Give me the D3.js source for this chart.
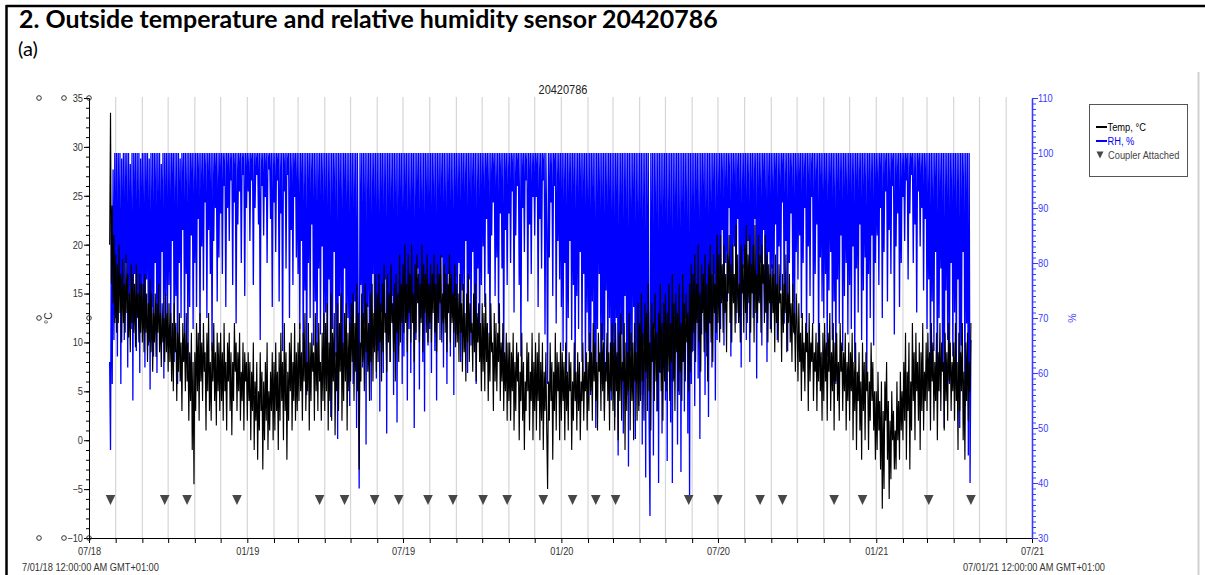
<!DOCTYPE html>
<html>
<head>
<meta charset="utf-8">
<script src="https://cdn.jsdelivr.net/npm/d3@7"></script>
<style>
  html, body { margin: 0; padding: 0; background: #fff; }
  svg { display: block; }
</style>
</head>
<body>
<svg id="chart" width="1205" height="575"></svg>
<script>
// ---- readings: one value per day, grouped by calendar month ----
const recordMonths = [
  "2018-07", "2018-08", "2018-09", "2018-10", "2018-11", "2018-12",
  "2019-01", "2019-02", "2019-03", "2019-04", "2019-05", "2019-06",
  "2019-07", "2019-08", "2019-09", "2019-10", "2019-11", "2019-12",
  "2020-01", "2020-02", "2020-03", "2020-04", "2020-05", "2020-06",
  "2020-07", "2020-08", "2020-09", "2020-10", "2020-11", "2020-12",
  "2021-01", "2021-02", "2021-03", "2021-04"
];
const firstRecordDay = 25; // logging began on 25 July 2018

const tempC = [
  [20, 33.5, 16, 24, 14, 21, 12],
  [19, 11, 18, 12, 20, 13, 17, 10, 18.5, 12, 16, 11, 19, 13, 17, 10.5, 15, 9, 18, 12, 17, 11, 16, 9.5, 18, 12.5, 15, 10, 17, 11, 16],
  [10, 16, 9, 17, 11, 15, 8, 14, 10, 16.5, 9, 15, 7, 13, 10, 15, 8.5, 14, 11, 16, 9, 13, 7.5, 14, 10, 12.5, 8, 15, 9, 13],
  [7, 14, 8, 13, 6, 12, 5, 14, 9, 12, 4, 11, 7, 13, 6, 10, 3, 12, 8, 11, 5, 13, 6, 10, 2, 9, 4, 11, -1, 8, -4.5],
  [9, 3, 12, 5, 11, 2, 13, 6, 10, 4, 12, 7, 9, 1, 11, 5, 13, 3, 8, 2, 10, 6, 12, 4, 9, 1.5, 11, 5, 10, 3],
  [11, 4, 9, 2, 12, 5, 8, 1, 10, 6, 11, 3, 9, 0.5, 8, 4, 12, 7, 10, 3, 9, 5, 11, 2, 7, 4, 10, 1, 9, 6, 8],
  [2, 9, 4, 8, 0, 7, 3, 10, -1, 6, 2, 8, -2, 5, 1, 9, 3, 7, -3, 6, 0, 8, 2, 10, -1, 5, 1, 7, 3, 9, 0],
  [8, 1, 10, 3, 7, -1, 9, 2, 11, 4, 8, 0, 12, 3, 9, -2, 7, 2, 10, 5, 11, 1, 8, 4, 12, 2, 9, 3],
  [10, 4, 12, 5, 9, 2, 11, 6, 13, 3, 8, 5, 12, 1, 10, 4, 11, 7, 9, 2, 13, 5, 10, 3, 12, 6, 8, 2, 11, 4, 13],
  [3, 12, 5, 14, 1, 10, 4, 15, 2, 11, 6, 13, 0.5, 9, 5, 14, 3, 12, 7, 15, 2, 10, 4, 13, 6, 14, 1, 11, 5, 12],
  [6, 14, 8, 15, 4, 12, 7, 16, 5, 13, -3, 10, 6, 15, 8, 13, 5, 16, 9, 14, 7, 12, 4, 15, 8, 16, 6, 13, 9, 17, 7],
  [15, 8, 17, 10, 14, 6, 16, 9, 18, 11, 13, 7, 17, 10, 15, 8, 18, 12, 14, 9, 16, 6, 17, 11, 15, 8, 19, 10, 16, 12],
  [18, 11, 20, 12, 16, 9, 19, 13, 17, 10, 20, 12, 15, 8, 18, 11, 19, 14, 17, 10, 16, 12, 20, 9, 18, 13, 17, 11, 19, 10, 16],
  [12, 18, 10, 17, 13, 19, 11, 16, 9, 18, 12, 17, 14, 19, 10, 15, 12, 18, 11, 17, 9, 16, 13, 19, 10, 17, 12, 15, 11, 18, 9.5],
  [16, 10, 15, 8, 17, 11, 14, 7, 16, 9, 13, 6, 15, 10, 17, 8, 14, 11, 12, 7, 15, 9, 16, 6, 13, 10, 14, 8, 12, 5],
  [14, 7, 13, 5, 15, 8, 12, 4, 11, 6, 14, 9, 10, 3, 13, 6, 12, 5, 11, 8, 14, 4, 10, 6, 12, 3, 9, 5, 11, 2, 10],
  [4, 10, 2, 9, 5, 11, 1, 8, 3, 10, 6, 9, 0, 7, 4, 11, 2, 8, -1, 6, 3, 10, 5, 9, 1, 7, 4, 11, 0, 8],
  [3, 10, 1, 9, 4, 11, 0, 8, 2, 10, -1, 7, 3, 9, 1, -5, 6, 2, 10, 4, 8, -2, 7, 3, 11, 1, 9, 5, 8, 0, 10],
  [2, 9, 4, 8, 0, 10, 3, 7, 1, 9, 5, 8, -1, 6, 2, 10, 4, 7, 1, 9, 3, 8, 0, 6, 4, 10, 2, 7, 5, 9, 1],
  [8, 3, 11, 5, 9, 2, 12, 6, 10, 4, 8, 1, 11, 7, 9, 3, 12, 5, 10, 2, 8, 6, 11, 4, 9, 1, 10, 5, 12],
  [3, 10, 1, 12, 5, 9, 0, 11, 4, 13, 2, 8, 6, 12, -1, 10, 3, 9, 5, 13, 1, 11, 4, 10, 0, 12, 6, 9, 2, 14, 3],
  [12, 4, 15, 6, 11, 2, 14, 7, 13, 3, 16, 5, 10, 1, 14, 8, 12, 4, 15, 6, 11, 3, 13, 7, 16, 5, 12, 2, 14, 6],
  [15, 5, 13, 7, 16, 4, 12, 8, 17, 6, 14, 3, 15, 9, 13, 5, 16, 7, 12, 4, 17, 8, 14, 6, 15, 10, 13, 5, 16, 7, 18],
  [9, 17, 11, 19, 8, 16, 12, 20, 10, 15, 7, 18, 13, 17, 9, 19, 11, 16, 6, 18, 12, 20, 10, 17, 8, 19, 13, 16, 11, 21],
  [12, 19, 10, 21, 14, 18, 11, 20, 13, 17, 9, 19, 15, 21, 12, 18, 10, 20, 14, 17, 11, 22, 13, 19, 12, 16, 10, 20, 15, 18, 11],
  [20, 13, 22, 12, 19, 14, 21, 11, 18, 15, 20, 10, 22, 13, 17, 12, 21, 14, 19, 11, 20, 16, 18, 12, 21, 13, 19, 10, 18, 14, 17],
  [11, 18, 13, 17, 9, 19, 12, 16, 10, 18, 14, 15, 8, 17, 11, 16, 13, 19, 9, 15, 12, 17, 10, 14, 8, 16, 11, 13, 7, 15],
  [12, 6, 14, 8, 11, 4, 13, 7, 10, 5, 12, 9, 11, 3, 13, 6, 10, 8, 12, 4, 9, 7, 11, 3, 10, 6, 12, 5, 9, 2, 11],
  [4, 12, 6, 10, 2, 11, 7, 13, 3, 9, 5, 12, 1, 10, 6, 11, 4, 8, 2, 12, 7, 10, 3, 9, 5, 11, 1, 8, 4, 10],
  [2, 9, 5, 11, 0, 8, 3, 10, -1, 7, 4, 9, 1, 6, -2, 10, 3, 8, 0, 9, 5, 7, -1, 6, 2, 10, 4, 8, 1, 5, -2],
  [5, -1, 7, 1, 4, -3, 6, -7, 3, -5, 6, 2, 8, -2, 4, -6, 2, -4, 5, 0, 3, -3, 1, -3, 6, 0, 4, -2, 7, 1, 5],
  [0, 8, 2, 11, -2, 7, 3, 10, -3, 6, 1, 12, 4, 9, 0, 11, 5, 8, 2, 10, -1, 9, 3, 12, 1, 7, 4, 10],
  [3, 11, 5, 9, 1, 12, 6, 10, 2, 8, 4, 11, 0, 9, 5, 12, 3, 10, 7, 8, 1, 11, 4, 9, 2, 12, 6, 10, 3, 8, 5],
  [10, 2, 12, 4, 8, -1, 11, 3, 9, 5, 12, 0, 7, -2, 10, 4, 11, 2, 8, 5, 12]
];

const rhPct = [
  [62, 46, 88, 58, 97, 66, 100],
  [70, 100, 63, 100, 76, 100, 58, 99, 72, 100, 66, 100, 80, 100, 61, 100, 74, 98, 68, 100, 55, 100, 78, 100, 64, 100, 71, 100, 60, 99, 75],
  [100, 68, 100, 61, 100, 77, 100, 65, 99, 57, 100, 72, 100, 63, 100, 80, 100, 60, 100, 70, 100, 67, 98, 82, 100, 59, 100, 74, 100, 66],
  [100, 76, 100, 67, 100, 84, 100, 62, 100, 74, 100, 58, 100, 80, 99, 70, 100, 86, 100, 65, 100, 78, 100, 61, 100, 72, 100, 85, 100, 68, 100],
  [80, 100, 72, 100, 88, 100, 66, 100, 83, 100, 75, 100, 91, 100, 70, 100, 86, 100, 78, 100, 64, 100, 84, 100, 90, 100, 73, 100, 81, 100],
  [89, 100, 78, 100, 94, 100, 72, 100, 90, 100, 84, 100, 95, 100, 76, 100, 91, 100, 69, 100, 87, 100, 93, 100, 80, 100, 96, 100, 74, 100, 90],
  [100, 93, 100, 84, 100, 95, 100, 76, 100, 90, 100, 96, 100, 87, 100, 66, 100, 94, 100, 85, 100, 92, 100, 80, 100, 97, 100, 88, 100, 72, 100],
  [91, 100, 82, 100, 95, 100, 73, 100, 89, 100, 64, 100, 93, 100, 79, 100, 96, 100, 70, 100, 86, 100, 76, 100, 92, 100, 81, 100],
  [78, 100, 68, 100, 84, 100, 62, 100, 75, 100, 56, 100, 80, 100, 70, 100, 87, 100, 65, 100, 73, 100, 59, 100, 79, 100, 67, 100, 83, 100, 63],
  [100, 71, 100, 60, 100, 77, 100, 52, 100, 68, 100, 82, 100, 63, 100, 48, 100, 74, 100, 66, 100, 57, 100, 79, 100, 61, 100, 70, 100, 54],
  [100, 66, 100, 58, 100, 73, 100, 50, 100, 64, 39, 100, 76, 100, 61, 100, 69, 100, 47, 100, 72, 100, 62, 100, 55, 100, 78, 100, 65, 100, 59],
  [100, 64, 100, 53, 100, 71, 100, 60, 100, 77, 100, 49, 100, 67, 100, 62, 100, 74, 100, 56, 100, 69, 100, 51, 100, 65, 100, 72, 100, 58],
  [100, 63, 100, 75, 100, 55, 100, 68, 100, 60, 100, 72, 100, 50, 100, 66, 100, 79, 100, 57, 100, 70, 100, 62, 100, 53, 100, 74, 100, 65, 100],
  [68, 100, 60, 100, 76, 100, 64, 100, 55, 100, 72, 100, 66, 100, 81, 100, 61, 100, 70, 100, 58, 100, 78, 100, 63, 100, 71, 100, 56, 100, 74],
  [100, 67, 100, 80, 100, 62, 100, 75, 100, 69, 100, 84, 100, 60, 100, 77, 100, 65, 100, 82, 100, 71, 100, 58, 100, 79, 100, 66, 100, 76],
  [100, 83, 100, 72, 100, 88, 100, 78, 100, 65, 100, 85, 100, 91, 100, 74, 100, 81, 100, 69, 100, 89, 100, 79, 100, 62, 100, 86, 100, 76, 100],
  [89, 100, 80, 100, 93, 100, 71, 100, 85, 100, 94, 100, 76, 100, 63, 100, 90, 100, 82, 100, 95, 100, 73, 100, 87, 100, 78, 100, 92, 100],
  [85, 100, 92, 100, 72, 100, 88, 100, 79, 100, 95, 100, 67, 100, 86, 58, 100, 81, 100, 91, 100, 74, 100, 94, 100, 69, 100, 84, 100, 77, 100],
  [72, 100, 64, 100, 80, 100, 60, 100, 70, 100, 84, 100, 66, 100, 76, 100, 57, 100, 74, 100, 68, 100, 82, 100, 62, 100, 78, 100, 59, 100, 71],
  [100, 64, 100, 56, 100, 73, 100, 61, 100, 50, 100, 68, 100, 78, 100, 58, 100, 66, 100, 53, 100, 75, 100, 60, 100, 70, 100, 55, 100],
  [62, 100, 52, 100, 70, 100, 45, 100, 60, 100, 67, 100, 49, 100, 74, 100, 56, 100, 43, 100, 64, 100, 58, 100, 72, 100, 48, 100, 61, 100, 54],
  [100, 56, 100, 47, 100, 65, 100, 41, 100, 59, 100, 51, 34, 100, 62, 100, 45, 100, 68, 100, 53, 100, 40, 100, 60, 100, 49, 100, 64, 100],
  [55, 100, 44, 100, 63, 100, 51, 100, 40, 100, 59, 100, 67, 100, 47, 100, 56, 100, 42, 100, 62, 100, 53, 100, 70, 100, 49, 100, 37, 100, 58],
  [100, 64, 100, 54, 100, 71, 100, 59, 100, 48, 100, 67, 100, 75, 100, 56, 100, 63, 100, 52, 100, 69, 100, 61, 100, 78, 100, 55, 100, 66],
  [100, 78, 100, 68, 100, 86, 100, 65, 100, 80, 100, 73, 100, 90, 100, 63, 100, 76, 100, 83, 100, 69, 100, 88, 100, 72, 100, 61, 100, 79, 100],
  [74, 100, 66, 100, 84, 100, 62, 100, 77, 100, 70, 100, 88, 100, 59, 100, 73, 100, 80, 100, 65, 100, 86, 100, 71, 100, 62, 100, 82, 100, 68],
  [100, 79, 100, 71, 100, 87, 100, 66, 100, 83, 100, 75, 100, 91, 100, 69, 100, 84, 100, 64, 100, 80, 100, 89, 100, 73, 100, 67, 100, 82],
  [100, 77, 100, 85, 100, 70, 100, 80, 100, 90, 100, 65, 100, 83, 100, 74, 100, 92, 100, 69, 100, 78, 100, 87, 100, 62, 100, 81, 100, 73, 100],
  [70, 100, 78, 100, 63, 100, 75, 100, 82, 100, 66, 100, 73, 100, 58, 100, 77, 100, 69, 100, 85, 100, 64, 100, 74, 100, 80, 100, 67, 100],
  [76, 100, 68, 100, 83, 100, 62, 100, 79, 100, 71, 100, 87, 100, 66, 100, 75, 100, 81, 100, 60, 100, 78, 100, 70, 100, 85, 100, 65, 100, 80],
  [100, 85, 100, 76, 100, 90, 100, 70, 100, 82, 100, 93, 100, 73, 100, 86, 100, 78, 100, 94, 100, 67, 100, 83, 100, 89, 100, 72, 100, 80, 100],
  [92, 100, 84, 100, 95, 100, 77, 100, 89, 100, 96, 100, 80, 100, 87, 100, 71, 100, 93, 100, 83, 100, 90, 100, 75, 100, 88, 100],
  [68, 100, 77, 100, 60, 100, 73, 100, 64, 100, 82, 100, 55, 100, 70, 100, 79, 100, 62, 100, 50, 100, 75, 100, 66, 100, 58, 100, 80, 100, 63],
  [100, 71, 100, 57, 100, 77, 100, 50, 100, 65, 100, 82, 100, 54, 100, 69, 100, 45, 100, 40, 66]
];

// dates when the coupler was attached (readout events)
const couplerDates = [
  "2018-07-26", "2018-09-27", "2018-10-23", "2018-12-20",
  "2019-03-26", "2019-04-24", "2019-05-29", "2019-06-26",
  "2019-07-30", "2019-08-28", "2019-10-02", "2019-10-30",
  "2019-12-11", "2020-01-14", "2020-02-10", "2020-03-04",
  "2020-05-28", "2020-07-01", "2020-08-19", "2020-09-14",
  "2020-11-13", "2020-12-16", "2021-03-03", "2021-04-21"
];

// axes
const timeStart = "2018-07-01";
const timeEnd = "2021-07-01";
const timeTickLabels = ["07/18", "01/19", "07/19", "01/20", "07/20", "01/21", "07/21"];
const tempDomain = [-10, 35];
const tempTicks = [35, 30, 25, 20, 15, 10, 5, 0, -5, -10];
const rhDomain = [30, 110];
const rhTicks = [110, 100, 90, 80, 70, 60, 50, 40, 30];

// text
const pageHeading = "2. Outside temperature and relative humidity sensor 20420786";
const panelTag = "(a)";
const chartTitle = "20420786";
const tempUnit = "°C";
const rhUnit = "%";
const legendNames = ["Temp, °C", "RH, %", "Coupler Attached"];
const rangeStartLabel = "7/01/18 12:00:00 AM GMT+01:00";
const rangeEndLabel = "07/01/21 12:00:00 AM GMT+01:00";

// ---- drawing ----
const W = 1205, H = 575;
const plot = { left: 89, right: 1032, top: 98, bottom: 538 };
const TEMP_COLOR = "#000000";
const RH_COLOR = "#0000ff";
const RH_AXIS_COLOR = "#3b3bff";
const GRID_COLOR = "#d6d6d6";
const MARK_COLOR = "#474747";
const CHART_FONT = "'Liberation Sans', Arial, sans-serif";

const svg = d3.select("#chart");
const parse = d3.utcParse("%Y-%m-%d");
const parseMonth = d3.utcParse("%Y-%m");

const x = d3.scaleUtc()
  .domain([parse(timeStart), parse(timeEnd)])
  .range([plot.left, plot.right]);
const yT = d3.scaleLinear().domain(tempDomain).range([plot.bottom, plot.top]);
const yH = d3.scaleLinear().domain(rhDomain).range([plot.bottom, plot.top]);

// narrow the chart lettering horizontally
function squeeze(sel, k) {
  sel.each(function () {
    const w = this.getComputedTextLength();
    if (w > 0) d3.select(this).attr("textLength", w * k).attr("lengthAdjust", "spacingAndGlyphs");
  });
}

// page frame and heading
svg.append("line").attr("x1", 6).attr("x2", W).attr("y1", 6).attr("y2", 6)
  .attr("stroke", "#000").attr("stroke-width", 2.5);
svg.append("line").attr("x1", 6.5).attr("x2", 6.5).attr("y1", 5).attr("y2", H)
  .attr("stroke", "#000").attr("stroke-width", 2.5);
svg.append("line").attr("x1", 1198.5).attr("x2", 1198.5).attr("y1", 72).attr("y2", H)
  .attr("stroke", "#d2d2d2").attr("stroke-width", 2);

const heading = svg.append("text")
  .attr("x", 19).attr("y", 28)
  .attr("font-family", "Lato, 'Open Sans', sans-serif")
  .attr("font-weight", "bold").attr("font-size", 20)
  .attr("fill", "#000").text(pageHeading);
{
  const w = heading.node().getComputedTextLength();
  heading.attr("font-size", 20 * 699 / w);
}
svg.append("text")
  .attr("x", 18).attr("y", 56)
  .attr("font-family", "Lato, 'Open Sans', sans-serif")
  .attr("font-size", 20).attr("fill", "#000").text(panelTag);

// monthly grid
const months = d3.utcMonth.range(parse(timeStart), d3.utcDay.offset(parse(timeEnd), 1));
svg.append("g").selectAll("line")
  .data(months.filter(d => x(d) > plot.left + 1 && x(d) < plot.right - 1))
  .join("line")
  .attr("x1", d => x(d)).attr("x2", d => x(d))
  .attr("y1", plot.top - 1).attr("y2", plot.bottom)
  .attr("stroke", GRID_COLOR).attr("stroke-width", 1.2);

// chart title
svg.append("text")
  .attr("x", 563).attr("y", 94).attr("text-anchor", "middle")
  .attr("font-family", CHART_FONT).attr("font-size", 12.5).attr("fill", "#222")
  .text(chartTitle).call(squeeze, 0.88);

// daily series: each month's list starts on its first logged day
function toPoints(byMonth) {
  const pts = [];
  byMonth.forEach((vals, m) => {
    const start = d3.utcDay.offset(parseMonth(recordMonths[m]), m === 0 ? firstRecordDay - 1 : 0);
    vals.forEach((v, j) => pts.push({ d: d3.utcDay.offset(start, j), v }));
  });
  return pts;
}
const tempPts = toPoints(tempC);
const rhPts = toPoints(rhPct);

svg.append("path")
  .datum(rhPts)
  .attr("fill", "none").attr("stroke", RH_COLOR).attr("stroke-width", 1.3)
  .attr("d", d3.line().x(p => x(p.d)).y(p => yH(p.v)));

svg.append("path")
  .datum(tempPts)
  .attr("fill", "none").attr("stroke", TEMP_COLOR).attr("stroke-width", 1.15)
  .attr("d", d3.line().x(p => x(p.d)).y(p => yT(p.v)));

// coupler markers
const markY = 500;
svg.append("g").selectAll("path")
  .data(couplerDates.map(parse))
  .join("path")
  .attr("d", d => {
    const cx = x(d);
    return `M${cx - 4.8},${markY - 5}L${cx + 4.8},${markY - 5}L${cx},${markY + 5}Z`;
  })
  .attr("fill", MARK_COLOR);

// bottom time axis
const fmt = d3.utcFormat("%m/%y");
const xAxis = svg.append("g")
  .attr("transform", `translate(0,${plot.bottom})`)
  .call(d3.axisBottom(x).tickValues(months).tickSizeInner(5).tickSizeOuter(0)
    .tickFormat(d => timeTickLabels.includes(fmt(d)) ? fmt(d) : ""));
xAxis.select(".domain").attr("stroke", "#000");
xAxis.selectAll(".tick line").attr("stroke", "#000");
xAxis.selectAll("text")
  .attr("font-family", CHART_FONT).attr("font-size", 10.5).attr("fill", "#333").attr("dy", "0.9em")
  .call(squeeze, 0.88);

svg.append("text").attr("x", 22).attr("y", 571)
  .attr("font-family", CHART_FONT).attr("font-size", 10.5).attr("fill", "#333")
  .text(rangeStartLabel).call(squeeze, 0.88);
svg.append("text").attr("x", 1105).attr("y", 571).attr("text-anchor", "end")
  .attr("font-family", CHART_FONT).attr("font-size", 10.5).attr("fill", "#333")
  .text(rangeEndLabel).call(squeeze, 0.88);

// temperature axis (left)
const tAxisG = svg.append("g").attr("transform", `translate(${plot.left},0)`);
tAxisG.call(d3.axisLeft(yT).tickValues(d3.range(tempDomain[0], tempDomain[1] + 1, 1))
  .tickSizeInner(3).tickSizeOuter(0).tickFormat(""));
tAxisG.call(g => g.append("g").call(d3.axisLeft(yT).tickValues(tempTicks).tickSizeInner(5).tickSizeOuter(0)));
tAxisG.selectAll("path.domain").attr("stroke", "#000");
tAxisG.selectAll(".tick line").attr("stroke", "#000");
tAxisG.selectAll("text")
  .attr("font-family", CHART_FONT).attr("font-size", 10.5).attr("fill", "#333").attr("x", -6)
  .call(squeeze, 0.88);

// small ring markers along the left margin
const ringSpots = [[39, 98], [64, 98], [89, 98], [39, 318], [89, 318], [39, 538], [64, 538], [89, 538]];
svg.append("g").selectAll("circle").data(ringSpots).join("circle")
  .attr("cx", d => d[0]).attr("cy", d => d[1]).attr("r", 2.3)
  .attr("fill", "none").attr("stroke", "#333").attr("stroke-width", 1);

svg.append("text")
  .attr("transform", "translate(52,318) rotate(-90)").attr("text-anchor", "middle")
  .attr("font-family", CHART_FONT).attr("font-size", 10.5).attr("fill", "#333")
  .text(tempUnit);

// relative humidity axis (right)
const hAxisG = svg.append("g").attr("transform", `translate(${plot.right},0)`);
hAxisG.call(d3.axisRight(yH).tickValues(d3.range(rhDomain[0], rhDomain[1] + 1, 1))
  .tickSizeInner(4).tickSizeOuter(0).tickFormat(""));
hAxisG.call(g => g.append("g").call(d3.axisRight(yH).tickValues(rhTicks).tickSizeInner(6).tickSizeOuter(0)));
hAxisG.selectAll("path.domain").attr("stroke", RH_AXIS_COLOR).attr("stroke-width", 1.3);
hAxisG.selectAll(".tick line").attr("stroke", RH_AXIS_COLOR);
hAxisG.selectAll("text")
  .attr("font-family", CHART_FONT).attr("font-size", 10.5).attr("fill", RH_AXIS_COLOR).attr("x", 6)
  .call(squeeze, 0.88);

svg.append("text")
  .attr("transform", "translate(1076,318) rotate(-90)").attr("text-anchor", "middle")
  .attr("font-family", CHART_FONT).attr("font-size", 10.5).attr("fill", RH_AXIS_COLOR)
  .text(rhUnit);

// legend
const lg = svg.append("g");
lg.append("rect").attr("x", 1089.5).attr("y", 104.5).attr("width", 98).attr("height", 72)
  .attr("fill", "#fff").attr("stroke", "#555").attr("stroke-width", 1);
const legendRows = [
  { y: 127, kind: "line", color: TEMP_COLOR, text: legendNames[0], fill: "#000" },
  { y: 141, kind: "line", color: RH_COLOR, text: legendNames[1], fill: RH_COLOR },
  { y: 155, kind: "mark", color: MARK_COLOR, text: legendNames[2], fill: "#444" }
];
legendRows.forEach(r => {
  if (r.kind === "line") {
    lg.append("line").attr("x1", 1096).attr("x2", 1107).attr("y1", r.y).attr("y2", r.y)
      .attr("stroke", r.color).attr("stroke-width", 2);
  } else {
    lg.append("path").attr("d", `M1096.5,${r.y - 3.5}L1103.5,${r.y - 3.5}L1100,${r.y + 3.5}Z`)
      .attr("fill", r.color);
  }
  lg.append("text").attr("x", r.kind === "line" ? 1107.5 : 1108).attr("y", r.y + 3.5)
    .attr("font-family", CHART_FONT).attr("font-size", 10).attr("fill", r.fill)
    .text(r.text).call(squeeze, 0.93);
});
</script>
</body>
</html>
